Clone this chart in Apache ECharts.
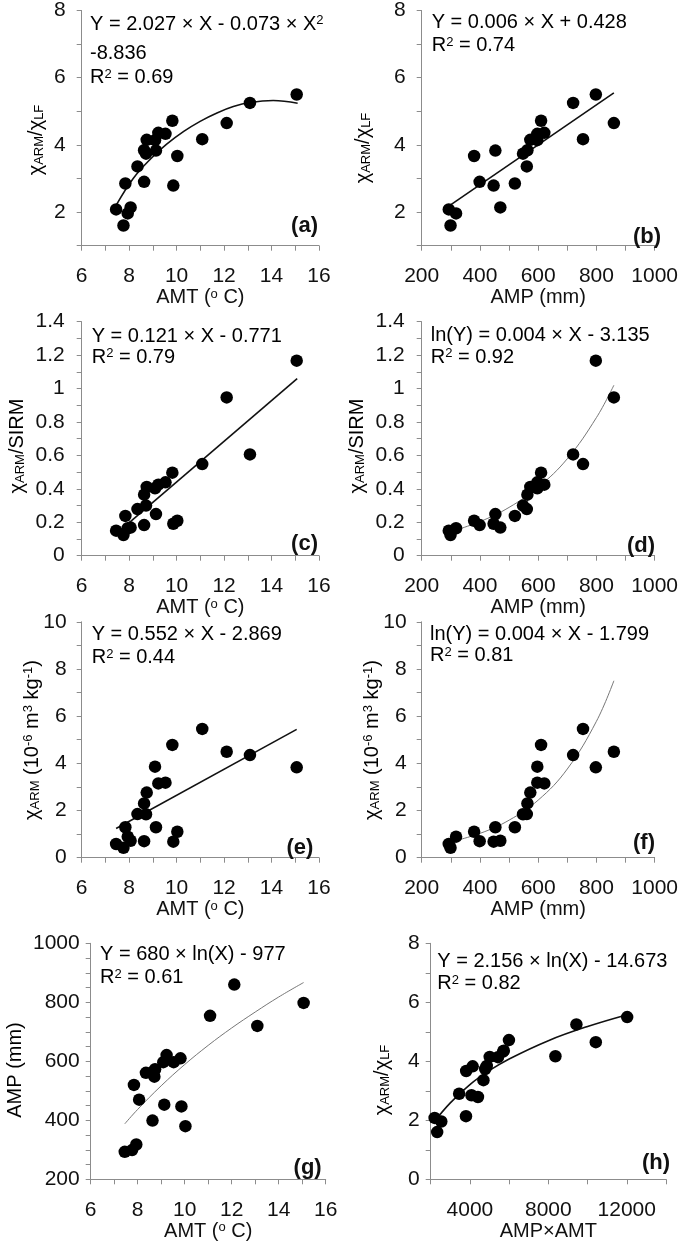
<!DOCTYPE html>
<html><head><meta charset="utf-8">
<script src="https://cdn.jsdelivr.net/npm/echarts@6/dist/echarts.min.js"></script>
<style>html,body{margin:0;padding:0;background:#fff}#c{width:681px;height:1244px}</style>
</head><body><div id="c"></div>
<script>
// ---- sample data (21 sites) ----
const amt     = [7.45, 7.76, 7.84, 7.94, 8.06, 8.35, 8.63, 8.63, 8.71, 8.74, 9.09, 9.13, 9.23, 9.53, 9.82, 9.86, 10.03, 11.08, 12.11, 13.09, 15.06];
const amp     = [293, 299, 520, 318, 470, 561, 399, 563, 548, 573, 597, 453, 621, 597, 610, 447, 380, 754, 860, 720, 798];
const armLf   = [2.08, 1.60, 2.85, 1.96, 2.14, 3.36, 2.90, 3.84, 3.74, 4.15, 4.14, 3.83, 4.36, 4.33, 4.72, 2.79, 3.67, 4.17, 4.65, 5.25, 5.50];
const armSirm = [0.150, 0.124, 0.238, 0.164, 0.168, 0.279, 0.183, 0.365, 0.300, 0.411, 0.403, 0.249, 0.425, 0.439, 0.497, 0.191, 0.209, 0.548, 0.947, 0.606, 1.167];
const arm     = [0.58, 0.42, 1.29, 0.89, 0.72, 1.85, 0.70, 2.30, 1.84, 2.76, 3.86, 1.29, 3.15, 3.18, 4.78, 0.68, 1.10, 5.46, 4.49, 4.35, 3.83];
const ampAmt  = [2200, 2330, 4080, 2540, 3800, 4690, 3450, 4860, 4780, 5010, 5430, 4140, 5730, 5690, 5990, 4410, 3810, 8360, 10420, 9430, 12020];

// ---- fitted curves, points ----
const trendA = [[7.45,2.2],[8.17,3.0],[8.9,3.58],[9.58,4.02],[10.3,4.4],[10.99,4.7],[11.7,4.95],[12.39,5.14],[13.09,5.26],[14.07,5.32],[15.1,5.24]];
const trendB = [[293,2.18],[860,5.55]];
const trendC = [[7.45,0.13],[15.08,1.06]];
const trendD = [[293,0.14],[400,0.204],[500,0.289],[600,0.41],[700,0.58],[800,0.826],[860,1.02]];
const trendE = [[7.45,1.24],[15.06,5.44]];
const trendF = [[293,0.65],[400,1.03],[500,1.59],[600,2.44],[700,3.76],[800,5.78],[860,7.5]];
const trendG = [[7.45,388],[8,437],[9,517],[10,589],[11,654],[12,713],[13,767],[14,818],[15.06,867]];
const trendH = [[2180,1.95],[3000,2.59],[4000,3.21],[5000,3.69],[6000,4.08],[8000,4.70],[10000,5.18],[12020,5.58]];

// ---- tick labels ----
const amtTicks  = [6, 8, 10, 12, 14, 16];
const ampTicks  = [200, 400, 600, 800, 1000];
const lfTicks   = [2, 4, 6, 8];
const sirmTicks = [0, 0.2, 0.4, 0.6, 0.8, 1, 1.2, 1.4];
const armTicks  = [0, 2, 4, 6, 8, 10];
const ampYTicks = [200, 400, 600, 800, 1000];
const lfTicksH  = [0, 2, 4, 6, 8];
const prodTicks = [4000, 8000, 12000];

// ---- texts ----
const eqA = ['Y = 2.027 × X - 0.073 × X{p|2}', '-8.836', 'R{p|2} = 0.69'];
const eqB = ['Y = 0.006 × X + 0.428', 'R{p|2} = 0.74'];
const eqC = ['Y = 0.121 × X - 0.771', 'R{p|2} = 0.79'];
const eqD = ['ln(Y) = 0.004 × X - 3.135', 'R{p|2} = 0.92'];
const eqE = ['Y = 0.552 × X - 2.869', 'R{p|2} = 0.44'];
const eqF = ['ln(Y) = 0.004 × X - 1.799', 'R{p|2} = 0.81'];
const eqG = ['Y = 680 × ln(X) - 977', 'R{p|2} = 0.61'];
const eqH = ['Y = 2.156 × ln(X) - 14.673', 'R{p|2} = 0.82'];

const FONT = '"Liberation Sans", Arial, Helvetica, sans-serif';
const TXT = '#111';
const AXC = '#8c8c8c';

const rich = {
  t: {fontSize: 20, fontFamily: FONT, color: TXT},
  s: {fontSize: 13, fontFamily: FONT, color: TXT, verticalAlign: 'bottom', lineHeight: 14},
  p: {fontSize: 13, fontFamily: FONT, color: TXT, verticalAlign: 'top', lineHeight: 14}
};
const nameAMT = '{t|AMT (}{p|o}{t| C)}';
const nameAMP = '{t|AMP (mm)}';
const nameProd = '{t|AMP×AMT}';
const nameLf = '{t|χ}{s|ARM}{t|/χ}{s|LF}';
const nameSirm = '{t|χ}{s|ARM}{t|/SIRM}';
const nameArm = '{t|χ}{s|ARM}{t| (10}{p|-6}{t| m}{p|3}{t| kg}{p|-1}{t|)}';

function fmt(labels) {
  return function (v) {
    for (const l of labels) if (Math.abs(l - v) < 1e-6) return String(l);
    return '';
  };
}

const panels = [
  {g:[81.7,9.3,237.3,236.4], x:[6,16,1,amtTicks,nameAMT], y:[1,8,1,lfTicks], ym:16, px:amt, py:armLf, tr:trendA, dark:true,
   eq:eqA, eqPos:[90,[24.2,53.3,77.5]], lab:'(a)', labPos:[318,226], yn:nameLf, ynPos:[36,140]},
  {g:[421.7,9.3,237.3,236.4], x:[200,1000,100,ampTicks,nameAMP], y:[1,8,1,lfTicks], ym:16, px:amp, py:armLf, tr:trendB, dark:true,
   eq:eqB, eqPos:[431.7,[22.5,45.8]], lab:'(b)', labPos:[661,237], yn:nameLf, ynPos:[363,148]},
  {g:[81.7,321.7,237.3,234], x:[6,16,1,amtTicks,nameAMT], y:[0,1.4,0.1,sirmTicks], ym:17, px:amt, py:armSirm, tr:trendC, dark:true,
   eq:eqC, eqPos:[91.7,[336.3,357.3]], lab:'(c)', labPos:[318,543.5], yn:nameSirm, ynPos:[17,446]},
  {g:[421.7,321.7,237.3,234], x:[200,1000,100,ampTicks,nameAMP], y:[0,1.4,0.1,sirmTicks], ym:17, px:amp, py:armSirm, tr:trendD, dark:false,
   eq:eqD, eqPos:[430.7,[335.7,357.3]], lab:'(d)', labPos:[655,546], yn:nameSirm, ynPos:[357,446]},
  {g:[81.7,621.8,237.3,235.9], x:[6,16,1,amtTicks,nameAMT], y:[0,10,1,armTicks], ym:15, px:amt, py:arm, tr:trendE, dark:true,
   eq:eqE, eqPos:[91.7,[634.5,657.5]], lab:'(e)', labPos:[313.3,847.5], yn:nameArm, ynPos:[32,740]},
  {g:[421.7,621.8,237.3,235.9], x:[200,1000,100,ampTicks,nameAMP], y:[0,10,1,armTicks], ym:15, px:amp, py:arm, tr:trendF, dark:false,
   eq:eqF, eqPos:[430,[634.2,655.8]], lab:'(f)', labPos:[655,842.5], yn:nameArm, ynPos:[372,740]},
  {g:[90.7,943.3,235,236], x:[6,16,1,amtTicks,nameAMT], y:[200,1000,50,ampYTicks], ym:11, px:amt, py:amp, tr:trendG, dark:false,
   eq:eqG, eqPos:[100,[954.2,977.5]], lab:'(g)', labPos:[321.7,1167.5], yn:'{t|AMP (mm)}', ynPos:[15,1070]},
  {g:[430.7,943.3,235.3,236], x:[2000,14000,2000,prodTicks,nameProd], y:[0,8,1,lfTicksH], ym:11, px:ampAmt, py:armLf, tr:trendH, dark:true,
   eq:eqH, eqPos:[437.3,[961.5,983.5]], lab:'(h)', labPos:[670,1163], yn:nameLf, ynPos:[382,1080]}
];

const option = {
  animation: false,
  backgroundColor: '#fff',
  textStyle: {fontFamily: FONT},
  grid: [], xAxis: [], yAxis: [], series: [], graphic: []
};

panels.forEach((p, i) => {
  option.grid.push({left: p.g[0], top: p.g[1], width: p.g[2], height: p.g[3], containLabel: false});
  option.xAxis.push({
    type: 'value', gridIndex: i, min: p.x[0], max: p.x[1], interval: p.x[2],
    name: p.x[4], nameLocation: 'middle', nameGap: 42,
    nameTextStyle: {rich: rich},
    axisLine: {show: true, onZero: false, lineStyle: {color: AXC, width: 1}},
    axisTick: {show: true, length: 5, lineStyle: {color: AXC}},
    axisLabel: {margin: 20, fontSize: 21, color: TXT, fontFamily: FONT, formatter: fmt(p.x[3]), showMinLabel: true, showMaxLabel: true},
    splitLine: {show: false}
  });
  option.yAxis.push({
    type: 'value', gridIndex: i, min: p.y[0], max: p.y[1], interval: p.y[2],
    axisLine: {show: true, onZero: false, lineStyle: {color: AXC, width: 1}},
    axisTick: {show: true, length: 5, lineStyle: {color: AXC}},
    axisLabel: {margin: p.ym, fontSize: 21, color: TXT, fontFamily: FONT, formatter: fmt(p.y[3]), showMinLabel: true, showMaxLabel: true},
    splitLine: {show: false}
  });
  option.series.push({
    type: 'line', xAxisIndex: i, yAxisIndex: i, data: p.tr, smooth: p.tr.length > 2 ? 0.4 : false,
    showSymbol: false, silent: true, z: 2,
    lineStyle: {color: p.dark ? '#111' : '#777', width: p.dark ? 1.6 : 1}
  });
  option.series.push({
    type: 'scatter', xAxisIndex: i, yAxisIndex: i, z: 3,
    data: p.px.map((v, k) => [v, p.py[k]]),
    symbol: 'circle', symbolSize: 12.5,
    itemStyle: {color: '#000', opacity: 1}
  });
  p.eq.forEach((line, k) => {
    option.graphic.push({
      type: 'text', x: p.eqPos[0], y: p.eqPos[1][k], z: 10,
      style: {text: '{t|' + line.replace(/\{p\|2\}/g, '}{p|2}{t|') + '}', rich: rich, align: 'left', verticalAlign: 'middle'}
    });
  });
  option.graphic.push({
    type: 'text', x: p.labPos[0], y: p.labPos[1], z: 10,
    style: {text: p.lab, font: 'bold 22px ' + FONT, fill: TXT, align: 'right', verticalAlign: 'middle'}
  });
  option.graphic.push({
    type: 'text', x: p.ynPos[0], y: p.ynPos[1], rotation: Math.PI / 2, z: 10,
    style: {text: p.yn, rich: rich, align: 'center', verticalAlign: 'middle'}
  });
});

const chart = echarts.init(document.getElementById('c'), null, {renderer: 'canvas'});
chart.setOption(option);
</script>
</body></html>
